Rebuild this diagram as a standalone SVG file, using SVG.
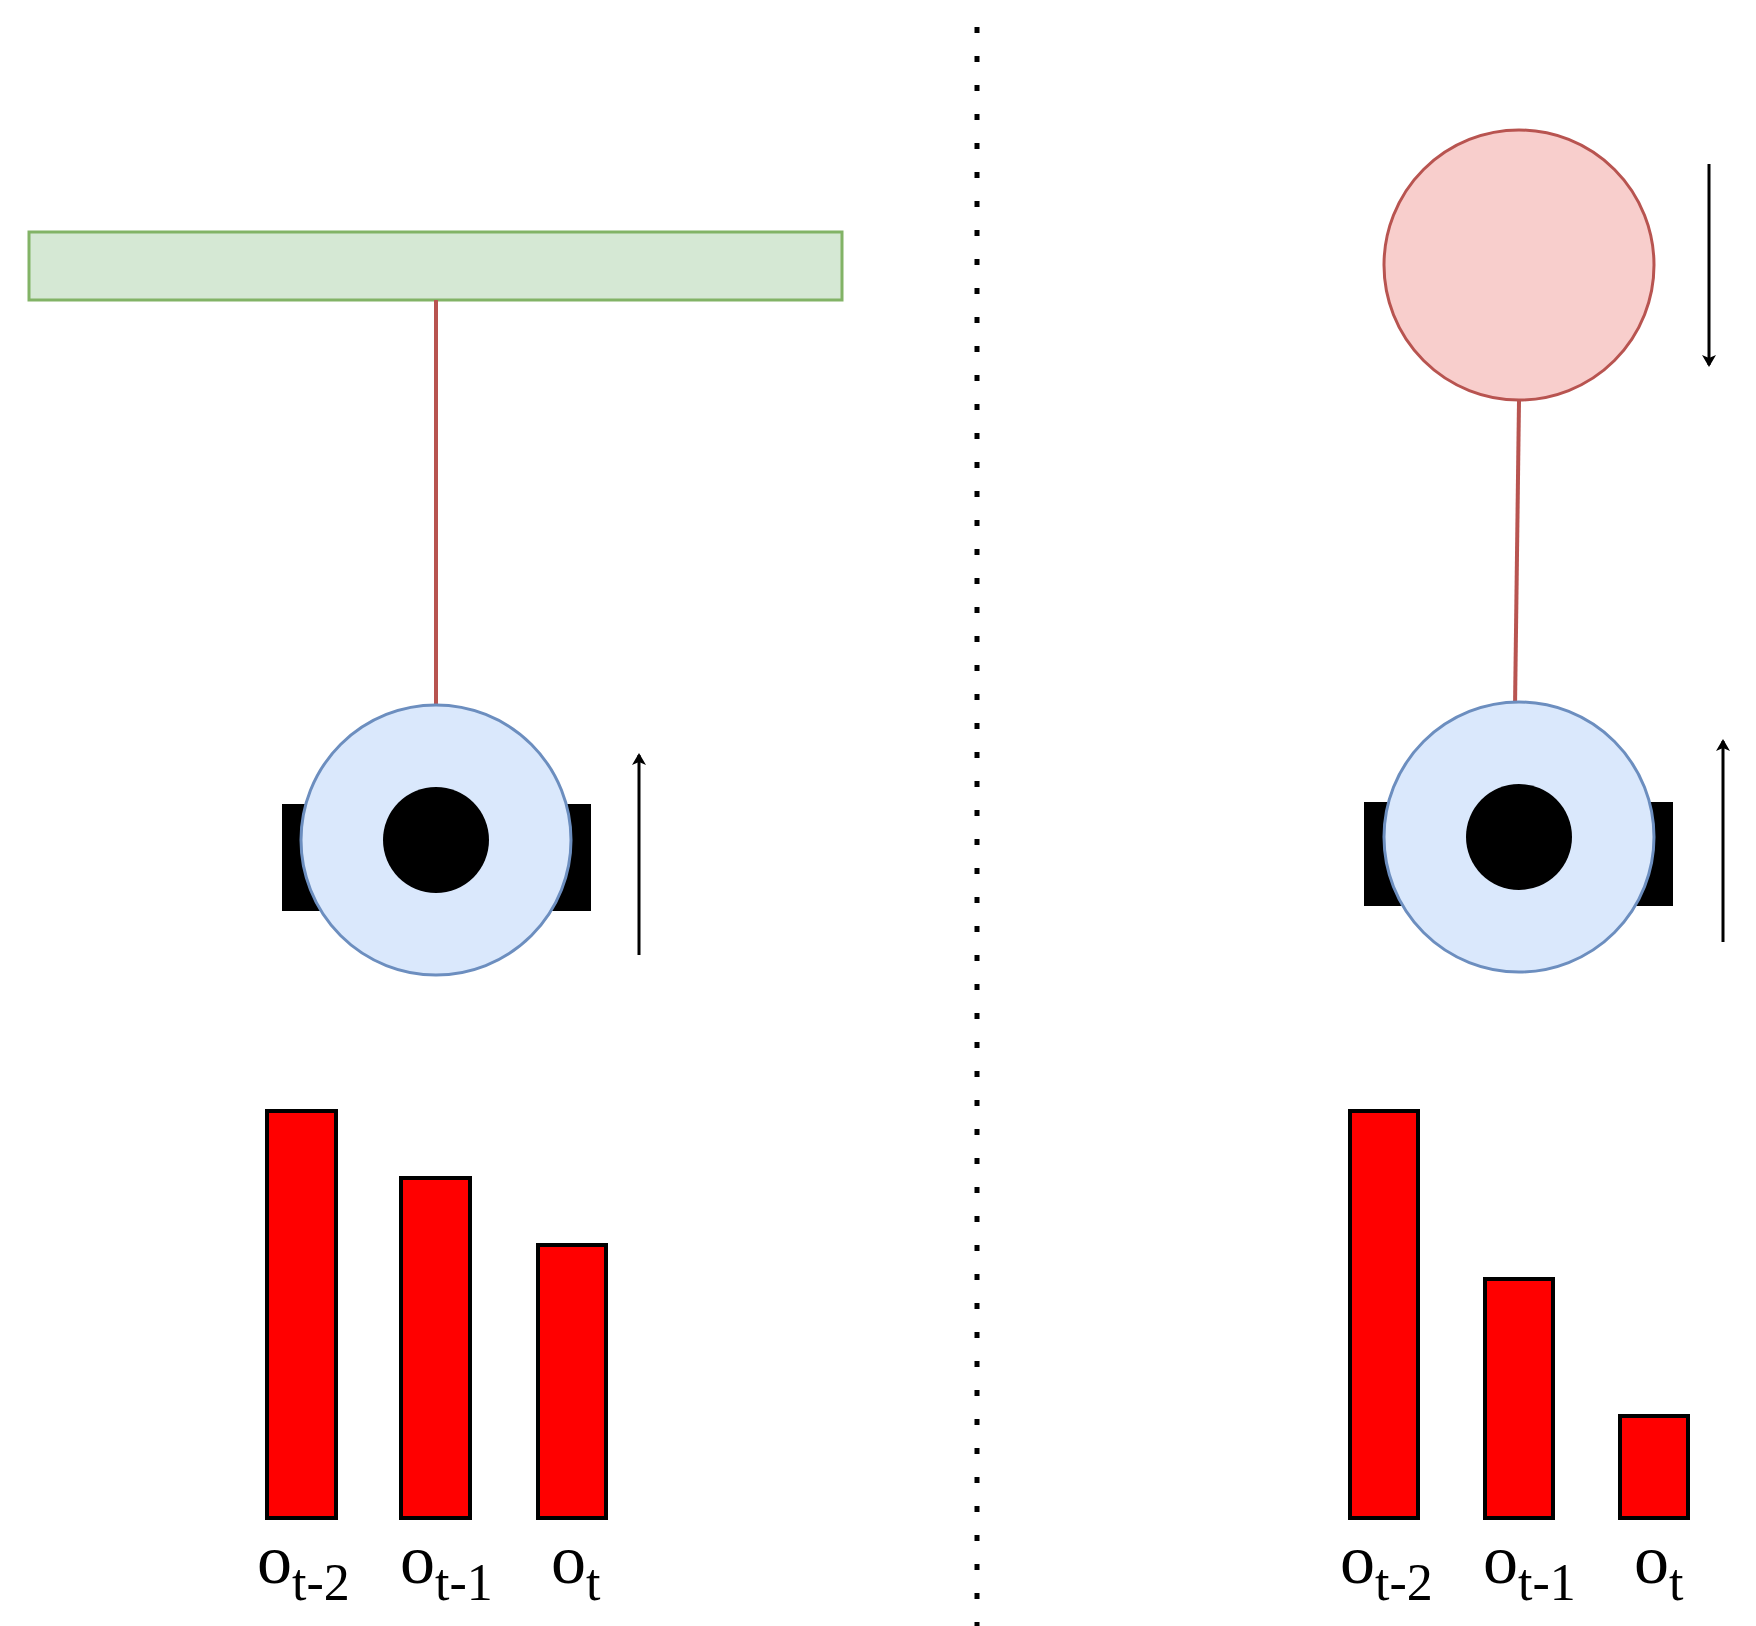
<svg xmlns="http://www.w3.org/2000/svg" width="1756" height="1626" viewBox="0 0 1756 1626">
<style>
.bar{fill:#ff0000;stroke:#000;stroke-width:4}
.rod{stroke:#b85450;stroke-width:4;fill:none}
.arr{stroke:#000;stroke-width:3;fill:none}
.blk{fill:#000}
.wheel{fill:#dae8fc;stroke:#6c8ebf;stroke-width:3}
.lbl{font-family:"Liberation Serif",serif;font-size:70px;fill:#000}
.sub{font-size:52px}
</style>
<defs>
<marker id="ah" markerWidth="12" markerHeight="14" refX="10" refY="7" orient="auto" markerUnits="userSpaceOnUse" viewBox="0 0 12 14">
<path d="M0,0 L12,7 L0,14 L3,7 Z" fill="#000"/>
</marker>
</defs>
<rect width="1756" height="1626" fill="#fff"/>
<line x1="977" y1="27" x2="977" y2="1626" stroke="#000" stroke-width="5" stroke-dasharray="6 23"/>
<g id="wall"><rect x="29" y="232" width="813" height="68" fill="#d5e8d4" stroke="#82b366" stroke-width="3"/></g>
<g id="ball"><circle cx="1519" cy="265" r="135" fill="#f8cecc" stroke="#b85450" stroke-width="3"/></g>
<g id="connectors">
<line class="rod" x1="436" y1="300" x2="436" y2="784"/>
<line class="rod" x1="1519" y1="401" x2="1514" y2="784"/>
<line class="arr" x1="639" y1="955" x2="639" y2="755" marker-end="url(#ah)"/>
<line class="arr" x1="1709" y1="164" x2="1709" y2="365" marker-end="url(#ah)"/>
<line class="arr" x1="1723" y1="942" x2="1723" y2="741" marker-end="url(#ah)"/>
</g>
<g id="robot-left">
<rect class="blk" x="282" y="804" width="309" height="107"/>
<circle class="wheel" cx="436" cy="840" r="135"/>
<circle class="blk" cx="436" cy="840" r="53"/>
</g>
<g id="robot-right">
<rect class="blk" x="1364" y="802" width="309" height="104"/>
<circle class="wheel" cx="1519" cy="837" r="135"/>
<circle class="blk" cx="1519" cy="837" r="53"/>
</g>
<g id="bars-left">
<rect class="bar" x="267" y="1111" width="69" height="407"/>
<rect class="bar" x="401" y="1178" width="69" height="340"/>
<rect class="bar" x="538" y="1245" width="68" height="273"/>
</g>
<g id="bars-right">
<rect class="bar" x="1350" y="1111" width="68" height="407"/>
<rect class="bar" x="1485" y="1279" width="68" height="239"/>
<rect class="bar" x="1620" y="1416" width="68" height="102"/>
</g>
<g id="labels">
<text class="lbl" x="257" y="1583">o<tspan class="sub" dy="17">t-2</tspan></text>
<text class="lbl" x="400" y="1583">o<tspan class="sub" dy="17">t-1</tspan></text>
<text class="lbl" x="551" y="1583">o<tspan class="sub" dy="17">t</tspan></text>
<text class="lbl" x="1340" y="1583">o<tspan class="sub" dy="17">t-2</tspan></text>
<text class="lbl" x="1483" y="1583">o<tspan class="sub" dy="17">t-1</tspan></text>
<text class="lbl" x="1634" y="1583">o<tspan class="sub" dy="17">t</tspan></text>
</g>
</svg>
